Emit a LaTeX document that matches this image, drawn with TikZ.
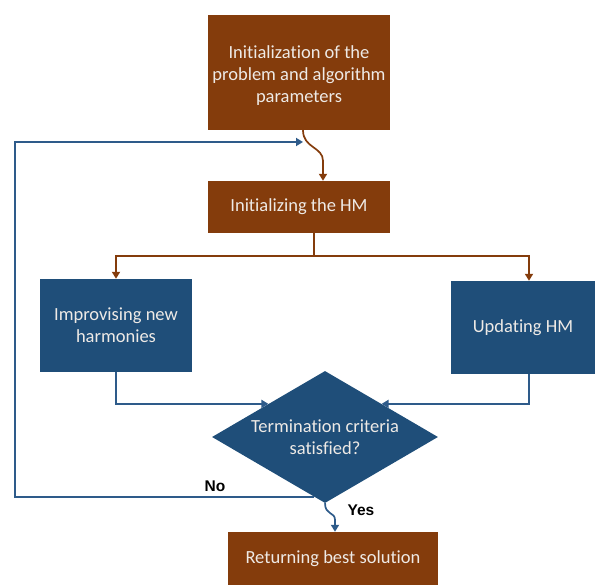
\documentclass[tikz,border=0pt]{standalone}
\usepackage{fontspec}
\setmainfont[Ligatures=NoCommon]{Carlito}
\newfontfamily\labelfont{Liberation Sans}
\definecolor{rust}{HTML}{843C0C}
\definecolor{navy}{HTML}{1F4E79}
\definecolor{navyline}{HTML}{2E5B8A}
\definecolor{paletext}{HTML}{EEEAE6}
\usetikzlibrary{positioning, shapes.geometric, arrows.meta}

\begin{document}
\begin{tikzpicture}[
  x=1pt, y=-1pt,
  rustbox/.style={fill=rust, text=paletext, align=center, inner sep=0pt,
                  font=\fontsize{18.5}{22}\selectfont},
  navybox/.style={fill=navy, text=paletext, align=center, inner sep=0pt,
                  font=\fontsize{18.5}{22}\selectfont},
  decide/.style={diamond, fill=navy, text=paletext, align=center, inner sep=0pt,
                 shape aspect=1.7, minimum width=226pt, minimum height=132pt,
                 font=\fontsize{18.5}{22}\selectfont},
  rustarrow/.style={draw=rust, line width=1.7pt, -{Triangle[width=8pt,length=7pt]}},
  rustline/.style={draw=rust, line width=1.7pt},
  navyarrow/.style={draw=navyline, line width=1.7pt, -{Triangle[width=8pt,length=7pt]}},
  answer/.style={font=\labelfont\bfseries\fontsize{15.5}{17}\selectfont, text=black},
]
\useasboundingbox (0,0) rectangle (595,585);

% boxes
\node[rustbox, minimum width=182pt, minimum height=115pt] (init) at (299,72.5)
  {\\[-4pt]Initialization of the\\problem and algorithm\\parameters};
\node[rustbox, minimum width=182pt, minimum height=52pt] (inithm) at (299,207)
  {Initializing the HM};
\node[navybox, minimum width=152pt, minimum height=93pt] (improv) at (116,325.5)
  {Improvising new\\harmonies};
\node[navybox, minimum width=144pt, minimum height=93pt] (update) at (523,327.5)
  {Updating HM};
\node[decide] (crit) at (325,437) {Termination criteria\\satisfied?};
\node[rustbox, minimum width=210pt, minimum height=53pt] (ret) at (333,558.5)
  {Returning best solution};

% helper points
\coordinate (joinin) at (303,142);
\coordinate (split) at (314,256);
\coordinate (loopup) at (15,142);

% flow
\draw[rustarrow] ([xshift=4pt]init.south) .. controls +(0,18) and +(0,-14) .. ([xshift=24pt,yshift=20pt]inithm.north) -- ([xshift=24pt]inithm.north);
\draw[rustline] ([xshift=15pt]inithm.south) -- (split);
\draw[rustarrow] (split) -| (improv.north);
\draw[rustarrow] (split) -| ([xshift=6pt]update.north);
\draw[navyarrow] (improv.south) |- (crit.north west);
\draw[navyarrow] ([xshift=6pt]update.south) |- (crit.north east);
\draw[navyarrow] (crit.260) -| (loopup) -- (joinin);
\draw[navyarrow] (crit.south) .. controls +(0,12) and +(0,-8) .. ([xshift=2pt,yshift=12pt]ret.north) -- ([xshift=2pt]ret.north);

% answers
\node[answer] (no) at (215,486) {No};
\node[answer] (yes) at (361,510) {Yes};
\end{tikzpicture}
\end{document}
